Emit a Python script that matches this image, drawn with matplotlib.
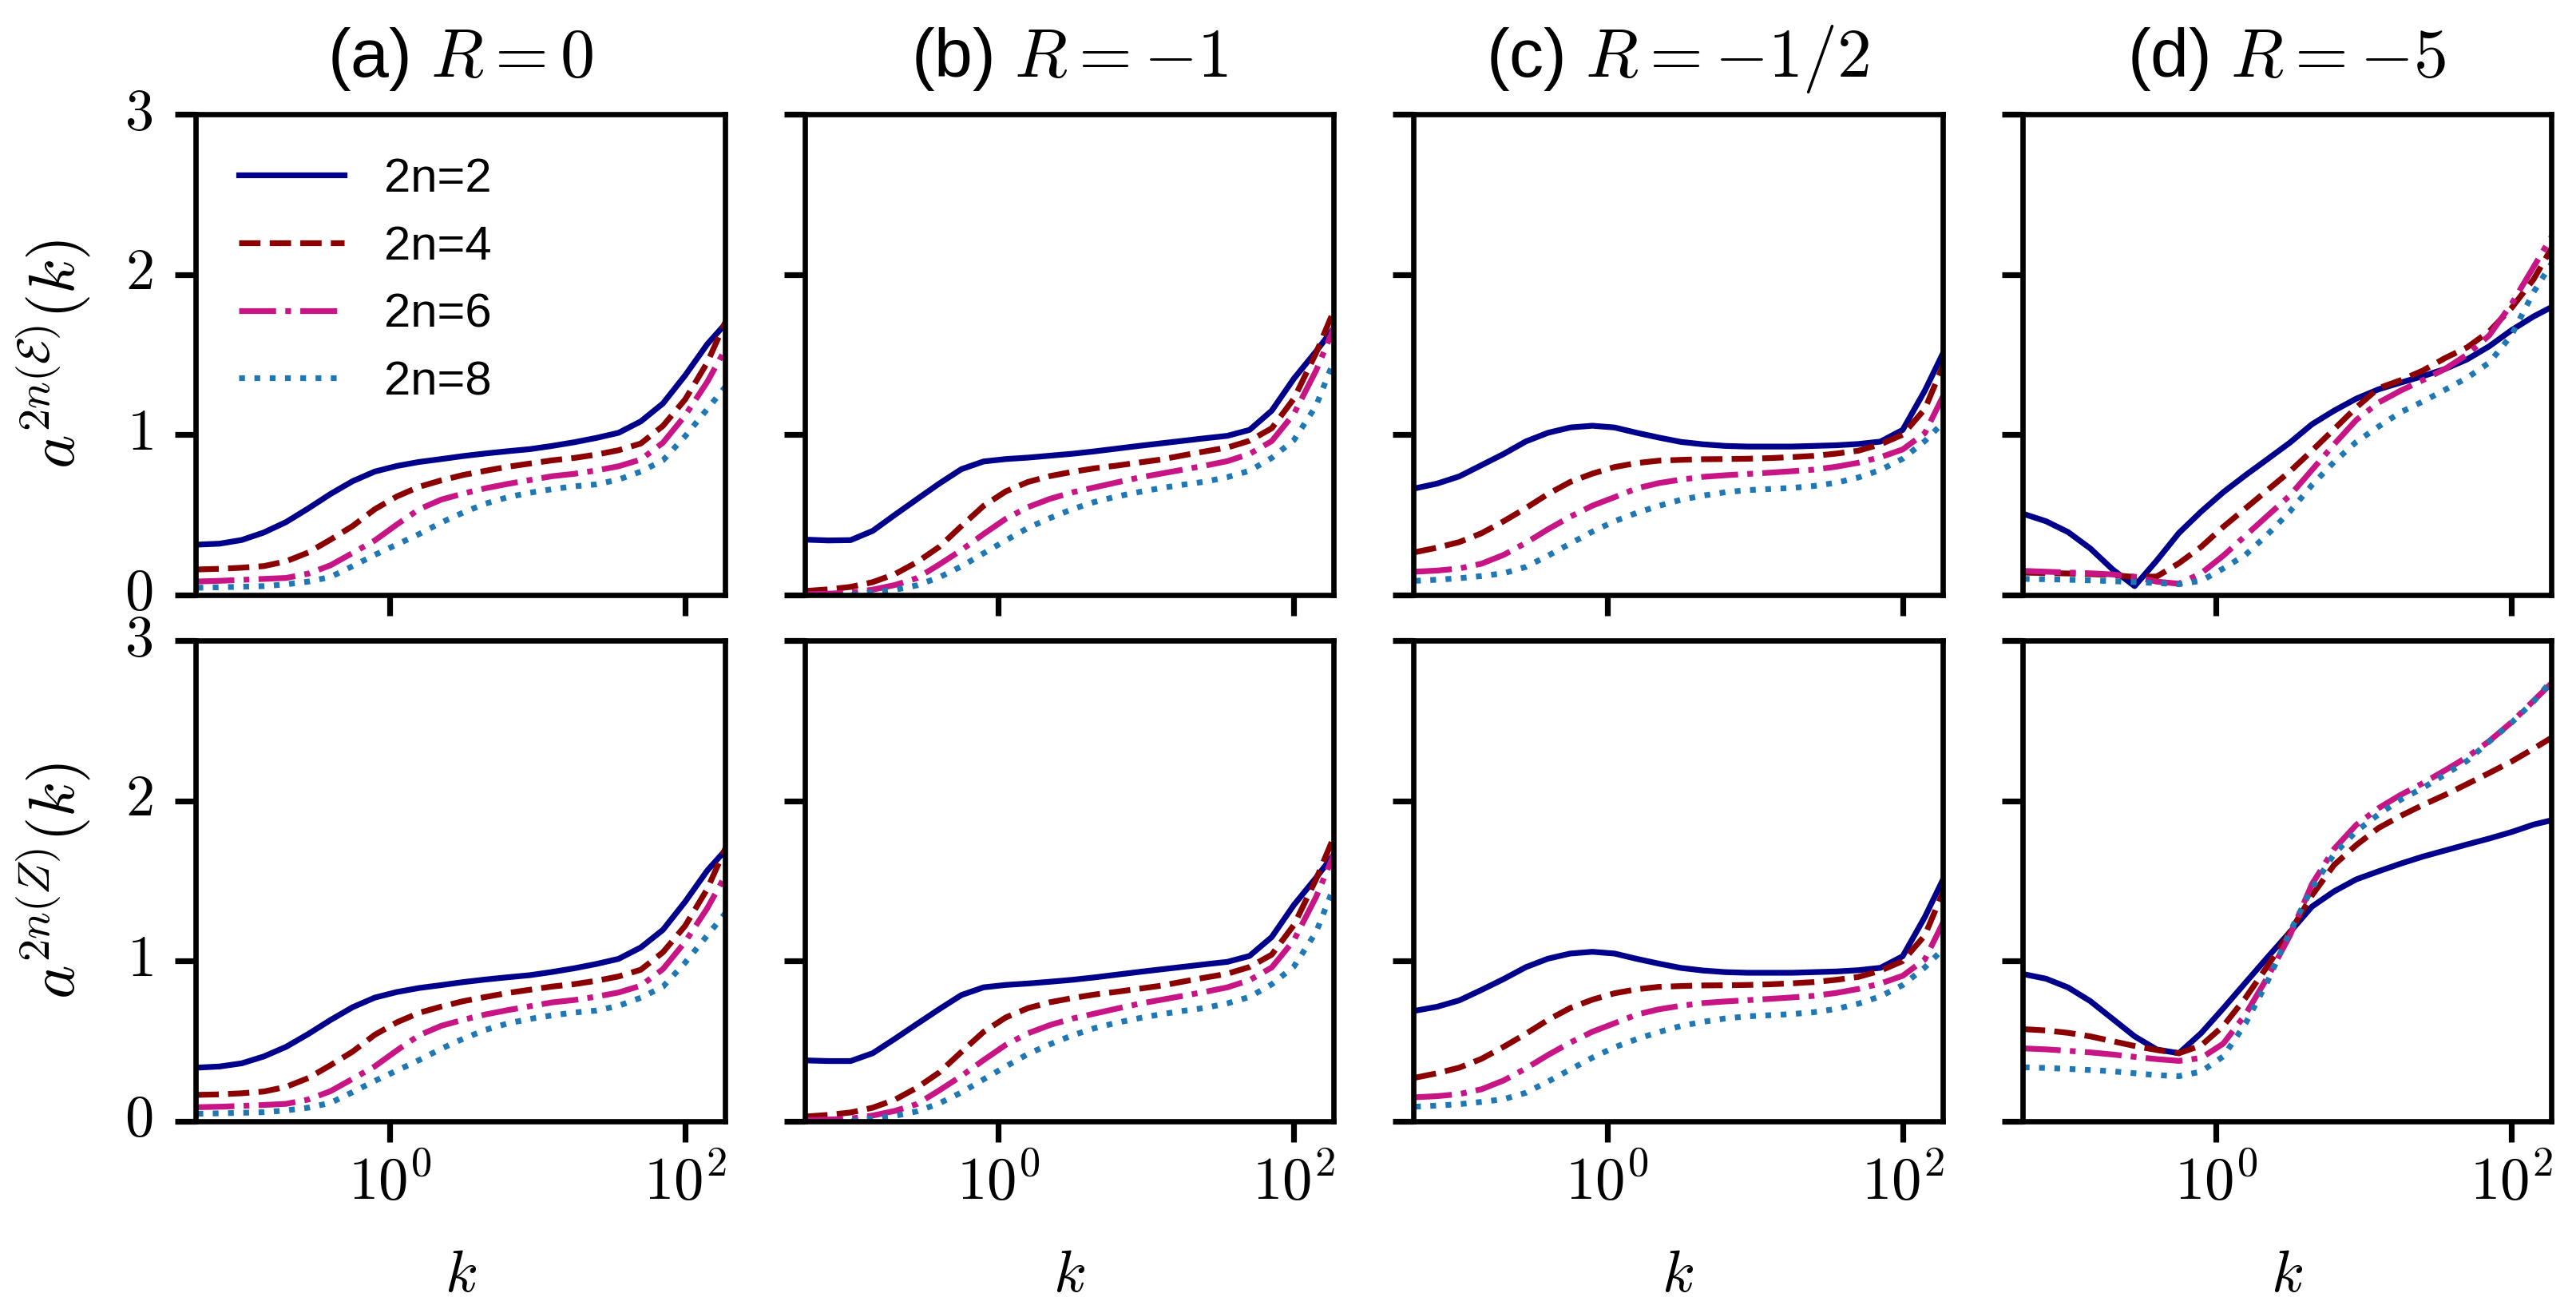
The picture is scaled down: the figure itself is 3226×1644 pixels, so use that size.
import numpy as np
import matplotlib
matplotlib.use("Agg")
import matplotlib.pyplot as plt
from matplotlib.ticker import FixedLocator, FixedFormatter, NullLocator

plt.rcParams['font.family'] = ['Liberation Sans', 'DejaVu Sans']
plt.rcParams['mathtext.fontset'] = 'cm'

# sample points, log10(k)
logk = [-1.3, -1.15, -1.0, -0.85, -0.7, -0.55, -0.4, -0.25, -0.1, 0.05, 0.2, 0.35, 0.5,
        0.65, 0.8, 0.95, 1.1, 1.25, 1.4, 1.55, 1.7, 1.85, 2.0, 2.15, 2.3]
k = 10.0 ** np.array(logk)

# (a) R = 0, energy
a_E2 = [0.314, 0.320, 0.343, 0.390, 0.455, 0.540, 0.630, 0.710, 0.770, 0.805, 0.830, 0.848, 0.867,
        0.883, 0.897, 0.910, 0.930, 0.953, 0.980, 1.012, 1.083, 1.195, 1.370, 1.565, 1.720]
a_E4 = [0.159, 0.163, 0.170, 0.180, 0.210, 0.265, 0.345, 0.430, 0.535, 0.615, 0.675, 0.715, 0.749,
        0.775, 0.800, 0.820, 0.840, 0.855, 0.876, 0.903, 0.945, 1.055, 1.220, 1.450, 1.760]
a_E6 = [0.084, 0.088, 0.094, 0.100, 0.106, 0.133, 0.185, 0.262, 0.340, 0.440, 0.535, 0.595, 0.633,
        0.666, 0.693, 0.717, 0.741, 0.756, 0.777, 0.803, 0.845, 0.950, 1.120, 1.330, 1.580]
a_E8 = [0.045, 0.048, 0.051, 0.055, 0.066, 0.083, 0.112, 0.180, 0.250, 0.315, 0.380, 0.452, 0.515,
        0.570, 0.610, 0.638, 0.660, 0.678, 0.690, 0.720, 0.770, 0.840, 0.990, 1.160, 1.330]
# (a) R = 0, enstrophy
a_Z2 = [0.335, 0.342, 0.362, 0.405, 0.465, 0.545, 0.632, 0.712, 0.772, 0.807, 0.832, 0.850, 0.869,
        0.885, 0.899, 0.912, 0.932, 0.955, 0.982, 1.014, 1.085, 1.195, 1.370, 1.565, 1.720]
a_Z4 = [0.165, 0.168, 0.175, 0.186, 0.215, 0.270, 0.350, 0.435, 0.540, 0.618, 0.677, 0.716, 0.750,
        0.776, 0.801, 0.821, 0.841, 0.856, 0.877, 0.904, 0.946, 1.055, 1.220, 1.450, 1.760]
a_Z6 = [0.088, 0.091, 0.096, 0.102, 0.109, 0.136, 0.188, 0.265, 0.343, 0.443, 0.537, 0.596, 0.634,
        0.667, 0.694, 0.718, 0.742, 0.757, 0.778, 0.804, 0.846, 0.950, 1.120, 1.330, 1.580]
a_Z8 = [0.047, 0.050, 0.053, 0.057, 0.068, 0.085, 0.115, 0.182, 0.252, 0.317, 0.382, 0.453, 0.516,
        0.571, 0.611, 0.639, 0.661, 0.679, 0.691, 0.721, 0.771, 0.840, 0.990, 1.160, 1.330]

# (b) R = -1
b_E2 = [0.345, 0.340, 0.342, 0.400, 0.500, 0.598, 0.695, 0.785, 0.833, 0.848, 0.857, 0.869, 0.881,
        0.896, 0.913, 0.930, 0.946, 0.962, 0.978, 0.993, 1.030, 1.150, 1.350, 1.520, 1.700]
b_E4 = [0.025, 0.035, 0.050, 0.080, 0.130, 0.205, 0.300, 0.430, 0.556, 0.646, 0.705, 0.742, 0.768,
        0.790, 0.807, 0.826, 0.845, 0.871, 0.896, 0.920, 0.962, 1.040, 1.225, 1.510, 1.840]
b_E6 = [0.005, 0.008, 0.014, 0.033, 0.062, 0.105, 0.190, 0.280, 0.380, 0.475, 0.548, 0.600, 0.640,
        0.671, 0.702, 0.732, 0.757, 0.782, 0.807, 0.835, 0.880, 0.960, 1.130, 1.400, 1.730]
b_E8 = [-0.030, -0.020, 0.000, 0.016, 0.032, 0.060, 0.110, 0.178, 0.260, 0.340, 0.418, 0.480, 0.535,
        0.580, 0.614, 0.642, 0.667, 0.688, 0.707, 0.735, 0.775, 0.855, 0.966, 1.180, 1.530]
b_Z2 = [0.380, 0.376, 0.376, 0.425, 0.515, 0.608, 0.700, 0.788, 0.836, 0.851, 0.860, 0.871, 0.883,
        0.898, 0.915, 0.932, 0.948, 0.964, 0.980, 0.995, 1.032, 1.150, 1.350, 1.520, 1.700]
b_Z4 = [0.030, 0.040, 0.055, 0.085, 0.135, 0.210, 0.305, 0.433, 0.558, 0.648, 0.706, 0.743, 0.769,
        0.791, 0.808, 0.827, 0.846, 0.872, 0.897, 0.921, 0.963, 1.040, 1.225, 1.510, 1.840]
b_Z6 = [0.008, 0.011, 0.017, 0.036, 0.065, 0.108, 0.193, 0.283, 0.382, 0.477, 0.549, 0.601, 0.641,
        0.672, 0.703, 0.733, 0.758, 0.783, 0.808, 0.836, 0.881, 0.960, 1.130, 1.400, 1.730]
b_Z8 = [-0.028, -0.018, 0.002, 0.018, 0.034, 0.062, 0.112, 0.180, 0.262, 0.342, 0.420, 0.481, 0.536,
        0.581, 0.615, 0.643, 0.668, 0.689, 0.708, 0.736, 0.776, 0.855, 0.966, 1.180, 1.530]

# (c) R = -1/2
c_E2 = [0.665, 0.695, 0.740, 0.810, 0.880, 0.958, 1.012, 1.045, 1.056, 1.045, 1.012, 0.982, 0.955,
        0.940, 0.930, 0.926, 0.926, 0.926, 0.930, 0.934, 0.942, 0.957, 1.030, 1.275, 1.560]
c_E4 = [0.267, 0.295, 0.330, 0.385, 0.460, 0.542, 0.630, 0.705, 0.757, 0.798, 0.823, 0.838, 0.843,
        0.847, 0.848, 0.850, 0.854, 0.860, 0.868, 0.882, 0.900, 0.940, 1.000, 1.160, 1.490]
c_E6 = [0.145, 0.152, 0.165, 0.195, 0.250, 0.325, 0.410, 0.488, 0.557, 0.610, 0.665, 0.698, 0.720,
        0.737, 0.747, 0.755, 0.763, 0.772, 0.782, 0.800, 0.825, 0.860, 0.908, 1.010, 1.290]
c_E8 = [0.088, 0.095, 0.104, 0.118, 0.135, 0.175, 0.245, 0.320, 0.395, 0.460, 0.512, 0.556, 0.594,
        0.620, 0.641, 0.654, 0.661, 0.668, 0.680, 0.700, 0.733, 0.780, 0.850, 0.960, 1.100]
c_Z2 = [0.690, 0.715, 0.755, 0.820, 0.888, 0.962, 1.015, 1.047, 1.058, 1.047, 1.014, 0.984, 0.957,
        0.941, 0.931, 0.927, 0.927, 0.927, 0.931, 0.935, 0.943, 0.958, 1.030, 1.275, 1.560]
c_Z4 = [0.272, 0.300, 0.335, 0.390, 0.465, 0.546, 0.633, 0.707, 0.759, 0.799, 0.824, 0.839, 0.844,
        0.848, 0.849, 0.851, 0.855, 0.861, 0.869, 0.883, 0.901, 0.940, 1.000, 1.160, 1.490]
c_Z6 = [0.150, 0.157, 0.170, 0.200, 0.255, 0.330, 0.414, 0.491, 0.559, 0.612, 0.666, 0.699, 0.721,
        0.738, 0.748, 0.756, 0.764, 0.773, 0.783, 0.801, 0.826, 0.860, 0.908, 1.010, 1.290]
c_Z8 = [0.091, 0.098, 0.107, 0.121, 0.138, 0.178, 0.248, 0.323, 0.397, 0.462, 0.513, 0.557, 0.595,
        0.621, 0.642, 0.655, 0.662, 0.669, 0.681, 0.701, 0.734, 0.780, 0.850, 0.960, 1.100]

# (d) R = -5
d_E2 = [0.505, 0.460, 0.392, 0.290, 0.160, 0.055, 0.215, 0.387, 0.520, 0.641, 0.747, 0.848, 0.950,
        1.065, 1.150, 1.225, 1.283, 1.325, 1.365, 1.410, 1.470, 1.552, 1.652, 1.738, 1.810]
d_E4 = [0.139, 0.137, 0.134, 0.130, 0.124, 0.112, 0.115, 0.198, 0.300, 0.425, 0.540, 0.655, 0.770,
        0.900, 1.035, 1.170, 1.290, 1.340, 1.400, 1.478, 1.545, 1.645, 1.790, 1.970, 2.210]
d_E6 = [0.150, 0.145, 0.140, 0.135, 0.128, 0.113, 0.083, 0.070, 0.135, 0.245, 0.370, 0.495, 0.620,
        0.780, 0.940, 1.092, 1.200, 1.275, 1.340, 1.410, 1.500, 1.620, 1.815, 2.047, 2.280]
d_E8 = [0.100, 0.098, 0.095, 0.091, 0.086, 0.080, 0.074, 0.067, 0.088, 0.165, 0.250, 0.378, 0.520,
        0.686, 0.830, 0.955, 1.050, 1.140, 1.207, 1.280, 1.355, 1.450, 1.620, 1.890, 2.110]
d_Z2 = [0.918, 0.890, 0.835, 0.750, 0.640, 0.530, 0.448, 0.425, 0.550, 0.705, 0.865, 1.024, 1.180,
        1.340, 1.435, 1.510, 1.560, 1.608, 1.652, 1.690, 1.728, 1.765, 1.805, 1.852, 1.885]
d_Z4 = [0.575, 0.567, 0.552, 0.530, 0.500, 0.470, 0.445, 0.425, 0.473, 0.595, 0.770, 0.970, 1.180,
        1.410, 1.600, 1.724, 1.830, 1.906, 1.974, 2.037, 2.105, 2.174, 2.245, 2.326, 2.410]
d_Z6 = [0.455, 0.449, 0.440, 0.430, 0.417, 0.402, 0.388, 0.377, 0.395, 0.485, 0.667, 0.900, 1.158,
        1.480, 1.700, 1.850, 1.954, 2.037, 2.110, 2.190, 2.273, 2.373, 2.490, 2.625, 2.760]
d_Z8 = [0.337, 0.333, 0.327, 0.320, 0.312, 0.300, 0.288, 0.282, 0.310, 0.405, 0.610, 0.874, 1.180,
        1.455, 1.668, 1.810, 1.915, 2.007, 2.080, 2.164, 2.250, 2.370, 2.487, 2.620, 2.780]

titles = ['(a) $R=0$', '(b) $R=-1$', '(c) $R=-1/2$', '(d) $R=-5$']
ylabels = [r'$a^{2n(\mathcal{E})}(k)$', r'$a^{2n(Z)}(k)$']
labels = ['2n=2', '2n=4', '2n=6', '2n=8']
colors = ['darkblue', 'darkred', 'mediumvioletred', '#1f77b4']
styles = ['-', '--', '-.', ':']

panels = [
    [[a_E2, a_E4, a_E6, a_E8], [b_E2, b_E4, b_E6, b_E8],
     [c_E2, c_E4, c_E6, c_E8], [d_E2, d_E4, d_E6, d_E8]],
    [[a_Z2, a_Z4, a_Z6, a_Z8], [b_Z2, b_Z4, b_Z6, b_Z8],
     [c_Z2, c_Z4, c_Z6, c_Z8], [d_Z2, d_Z4, d_Z6, d_Z8]],
]

fig, axs = plt.subplots(2, 4, figsize=(16.13, 8.22), dpi=200, sharex=True, sharey=True)
fig.subplots_adjust(left=0.0761, right=0.9904, top=0.913, bottom=0.146,
                    wspace=0.151, hspace=0.095)

for i in range(2):
    for j in range(4):
        ax = axs[i, j]
        for curve, col, ls, lab in zip(panels[i][j], colors, styles, labels):
            ax.plot(k, curve, color=col, ls=ls, lw=2.6, label=lab)
        ax.set_xscale('log')
        ax.set_xlim(0.049, 186)
        ax.set_ylim(0, 3)
        ax.xaxis.set_major_locator(FixedLocator([1, 100]))
        ax.xaxis.set_major_formatter(FixedFormatter(['$10^{0}$', '$10^{2}$']))
        ax.xaxis.set_minor_locator(NullLocator())
        ax.yaxis.set_major_locator(FixedLocator([0, 1, 2, 3]))
        ax.yaxis.set_major_formatter(FixedFormatter(['$0$', '$1$', '$2$', '$3$']))
        ax.tick_params(direction='out', length=9.5, width=2.6,
                       top=False, right=False)
        ax.tick_params(axis='x', pad=6, labelsize=27)
        ax.tick_params(axis='y', pad=10, labelsize=26)
        plt.setp(ax.get_yticklabels(), va='center')
        for sp in ax.spines.values():
            sp.set_linewidth(2.4)
        if i == 0:
            ax.set_title(titles[j], fontsize=31, pad=17)
        if i == 1:
            ax.set_xlabel('$k$', fontsize=27)
            ax.xaxis.set_label_coords(0.5, -0.265)
        if j == 0:
            ax.set_ylabel(ylabels[i], fontsize=29)
            ax.yaxis.set_label_coords(-0.196, 0.5)

axs[0, 0].legend(loc='upper left', frameon=False, fontsize=21.5,
                 handlelength=2.2, handletextpad=0.85, labelspacing=0.5)

fig.savefig('out.png', dpi=200)
